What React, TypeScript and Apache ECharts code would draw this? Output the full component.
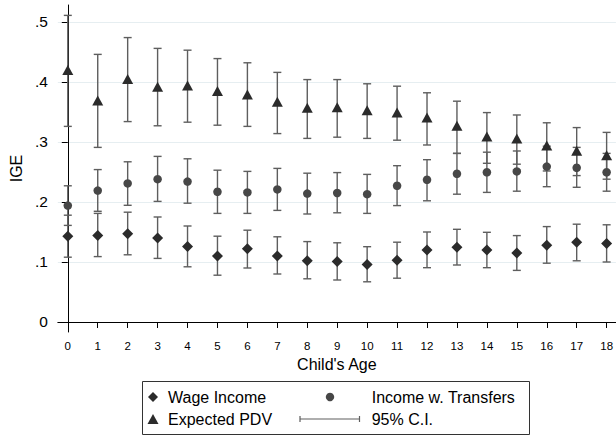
import React, { useEffect, useRef } from "react";
import * as echarts from "echarts";

const ages = [0, 1, 2, 3, 4, 5, 6, 7, 8, 9, 10, 11, 12, 13, 14, 15, 16, 17, 18];
const yTicks = [0, 0.1, 0.2, 0.3, 0.4, 0.5];

const wagePoint = [0.143, 0.144, 0.147, 0.140, 0.126, 0.110, 0.122, 0.110, 0.102, 0.101, 0.096, 0.103, 0.120, 0.1245, 0.120, 0.115, 0.128, 0.133, 0.131];
const wageLow = [0.108, 0.109, 0.112, 0.106, 0.092, 0.078, 0.090, 0.080, 0.072, 0.070, 0.067, 0.073, 0.0905, 0.095, 0.0905, 0.086, 0.098, 0.102, 0.100];
const wageHigh = [0.178, 0.181, 0.183, 0.175, 0.160, 0.143, 0.153, 0.142, 0.134, 0.132, 0.1255, 0.133, 0.150, 0.1545, 0.1495, 0.144, 0.159, 0.163, 0.162];

const transPoint = [0.194, 0.219, 0.231, 0.238, 0.234, 0.217, 0.216, 0.221, 0.214, 0.215, 0.213, 0.227, 0.237, 0.247, 0.2495, 0.251, 0.259, 0.257, 0.2495];
const transLow = [0.161, 0.1845, 0.1945, 0.201, 0.198, 0.181, 0.181, 0.186, 0.180, 0.182, 0.181, 0.194, 0.202, 0.213, 0.216, 0.218, 0.2255, 0.2245, 0.218];
const transHigh = [0.227, 0.254, 0.267, 0.276, 0.272, 0.253, 0.251, 0.256, 0.248, 0.249, 0.246, 0.2605, 0.2705, 0.281, 0.283, 0.285, 0.293, 0.291, 0.281];

const pdvPoint = [0.420, 0.369, 0.405, 0.392, 0.394, 0.385, 0.379, 0.367, 0.357, 0.358, 0.353, 0.349, 0.341, 0.327, 0.309, 0.306, 0.294, 0.2855, 0.278];
const pdvLow = [0.326, 0.291, 0.334, 0.327, 0.333, 0.328, 0.326, 0.314, 0.306, 0.308, 0.306, 0.303, 0.295, 0.281, 0.2645, 0.263, 0.2517, 0.244, 0.238];
const pdvHigh = [0.511, 0.446, 0.474, 0.456, 0.453, 0.439, 0.432, 0.416, 0.404, 0.404, 0.397, 0.393, 0.382, 0.368, 0.349, 0.345, 0.332, 0.324, 0.316];

const FONT = "'Liberation Sans', Arial, sans-serif";
const BAR_COLOR = "#5e5e5e";
const MARK_DARK = "#2b2b2b";
const MARK_CIRCLE = "#474747";

function ciSeries(low: number[], high: number[]) {
  return {
    type: "custom",
    silent: true,
    z: 2,
    encode: { x: 0, y: [1, 2] },
    data: ages.map((a, i) => [a, low[i], high[i]]),
    renderItem: (params: any, api: any) => {
      const x = api.value(0);
      const pLo = api.coord([x, api.value(1)]);
      const pHi = api.coord([x, api.value(2)]);
      const w = 4;
      const style = { stroke: BAR_COLOR, lineWidth: 1.4 };
      return {
        type: "group",
        children: [
          { type: "line", shape: { x1: pLo[0], y1: pLo[1], x2: pHi[0], y2: pHi[1] }, style },
          { type: "line", shape: { x1: pLo[0] - w, y1: pLo[1], x2: pLo[0] + w, y2: pLo[1] }, style },
          { type: "line", shape: { x1: pHi[0] - w, y1: pHi[1], x2: pHi[0] + w, y2: pHi[1] }, style },
        ],
      };
    },
  };
}

function pointSeries(vals: number[], symbol: string, size: any, color: string) {
  return {
    type: "scatter",
    silent: true,
    z: 3,
    symbol,
    symbolSize: size,
    itemStyle: { color, opacity: 1 },
    data: ages.map((a, i) => [a, vals[i]]),
  };
}

export default function App() {
  const ref = useRef<HTMLDivElement>(null);
  useEffect(() => {
    if (!ref.current) return;
    const chart = echarts.init(ref.current, null, { renderer: "svg" });
    const gridColor = "#e6eef1";
    const textStyle = { fontFamily: FONT, fill: "#000", fontSize: 16 };
    chart.setOption({
      animation: false,
      backgroundColor: "#fff",
      textStyle: { fontFamily: FONT },
      grid: { left: 56.7, right: 0, top: 5, bottom: 104, containLabel: false },
      xAxis: {
        type: "value",
        min: -0.333,
        max: 18.31,
        name: "Child's Age",
        nameLocation: "middle",
        nameGap: 21,
        nameTextStyle: { fontSize: 16, color: "#000", fontFamily: FONT },
        axisLine: { show: true, lineStyle: { color: "#000", width: 1 } },
        axisTick: { show: true, length: 6, lineStyle: { color: "#000" }, customValues: ages },
        axisLabel: { fontSize: 11.5, color: "#000", margin: 8, fontFamily: FONT, customValues: ages, formatter: (v: number) => String(v) },
        splitLine: { show: false },
      },
      yAxis: {
        type: "value",
        min: -0.01667,
        max: 0.5283,
        name: "IGE",
        nameLocation: "middle",
        nameRotate: 90,
        nameGap: 33,
        nameTextStyle: { fontSize: 16, color: "#000", fontFamily: FONT },
        axisLine: { show: true, lineStyle: { color: "#000", width: 1 } },
        axisTick: { show: true, length: 6, lineStyle: { color: "#000" }, customValues: yTicks },
        axisLabel: {
          fontSize: 15.5,
          color: "#000",
          margin: 10,
          fontFamily: FONT,
          customValues: yTicks,
          formatter: (v: number) => (v === 0 ? "0" : v.toFixed(1).replace(/^0/, "")),
        },
        splitLine: {
          show: true,
          lineStyle: { color: ["rgba(0,0,0,0)", gridColor, gridColor, gridColor, gridColor, gridColor], width: 1 },
        },
      },
      series: [
        ciSeries(wageLow, wageHigh),
        ciSeries(transLow, transHigh),
        ciSeries(pdvLow, pdvHigh),
        pointSeries(wagePoint, "diamond", [11, 11], MARK_DARK),
        pointSeries(transPoint, "circle", 8.5, MARK_CIRCLE),
        pointSeries(pdvPoint, "triangle", [11, 10], MARK_DARK),
      ],
      graphic: [
        {
          type: "rect",
          shape: { x: 142.5, y: 381.5, width: 387, height: 53 },
          style: { fill: "#fff", stroke: "#333", lineWidth: 1 },
          silent: true,
        },
        { type: "polygon", shape: { points: [[153, 392], [158, 397], [153, 402], [148, 397]] }, style: { fill: MARK_DARK } },
        { type: "text", x: 168, y: 397, style: { ...textStyle, text: "Wage Income", verticalAlign: "middle", align: "left" } },
        { type: "circle", shape: { cx: 330, cy: 397, r: 4.2 }, style: { fill: MARK_CIRCLE } },
        { type: "text", x: 371.7, y: 397, style: { ...textStyle, text: "Income w. Transfers", verticalAlign: "middle", align: "left" } },
        { type: "polygon", shape: { points: [[153, 414], [158.5, 424], [147.5, 424]] }, style: { fill: MARK_DARK } },
        { type: "text", x: 168, y: 419, style: { ...textStyle, text: "Expected PDV", verticalAlign: "middle", align: "left" } },
        { type: "line", shape: { x1: 300, y1: 419, x2: 359.5, y2: 419 }, style: { stroke: BAR_COLOR, lineWidth: 1.2 } },
        { type: "line", shape: { x1: 300, y1: 416, x2: 300, y2: 422 }, style: { stroke: BAR_COLOR, lineWidth: 1.2 } },
        { type: "line", shape: { x1: 359.5, y1: 416, x2: 359.5, y2: 422 }, style: { stroke: BAR_COLOR, lineWidth: 1.2 } },
        { type: "text", x: 371.7, y: 419, style: { ...textStyle, text: "95% C.I.", verticalAlign: "middle", align: "left" } },
      ],
    });
    return () => chart.dispose();
  }, []);
  return <div ref={ref} style={{ position: "fixed", left: 0, top: 0, width: 616, height: 436 }} />;
}
